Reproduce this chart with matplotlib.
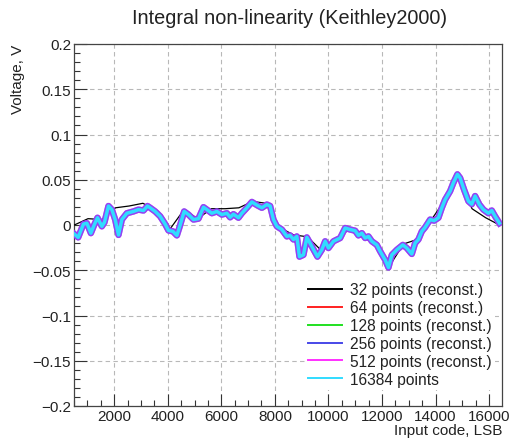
import matplotlib
matplotlib.use("Agg")
import matplotlib.pyplot as plt
from matplotlib.lines import Line2D
from matplotlib.ticker import MultipleLocator, FuncFormatter

# Integral non-linearity measured with a Keithley 2000 multimeter

# Coarse reconstruction from 32 calibration points (codes 512*k)
codes_32 = [512 * k for k in range(1, 33)]
inl_32 = [0.000, 0.007, 0.006, 0.019, 0.021, 0.024, 0.016, -0.004,
          0.017, 0.007, 0.018, 0.018, 0.019, 0.026, 0.024, -0.003,
          -0.011, -0.013, -0.028, -0.018, -0.005, -0.010, -0.021, -0.045,
          -0.021, -0.016, 0.005, 0.027, 0.054, 0.018, 0.008, 0.000]

# Full-resolution curve (main vertices of the 16384-point measurement)
codes_full = [512, 656, 854, 981, 1130, 1253, 1377, 1541, 1638, 1787,
              1914, 2037, 2161, 2287, 2474, 2720, 2907, 3094, 3243, 3344,
              3531, 3717, 3904, 4027, 4191, 4341, 4464, 4613, 4774, 4960,
              5147, 5334, 5461, 5647, 5834, 6021, 6207, 6330, 6453, 6640,
              6767, 6954, 7141, 7327, 7514, 7700, 7823, 7947, 8074, 8260,
              8447, 8570, 8693, 8820, 8918, 9067, 9194, 9380, 9589, 9753,
              9877, 10000, 10187, 10437, 10623, 10810, 10997, 11120, 11247, 11370,
              11493, 11620, 11807, 11930, 12117, 12240, 12367, 12553, 12777, 12926,
              13113, 13236, 13360, 13487, 13610, 13797, 13946, 14106, 14233, 14356,
              14543, 14666, 14815, 14916, 15065, 15226, 15353, 15476, 15636, 15786,
              15972, 16099, 16222, 16384]
inl_full = [-0.010, -0.0137, 0.001, 0.002, -0.009, 0.000, 0.008, -0.0015, 0.003, 0.021,
            0.017, 0.006, -0.011, 0.006, 0.013, 0.015, 0.017, 0.016, 0.021, 0.019,
            0.015, 0.0096, 0.001, -0.006, -0.007, -0.0115, 0.000, 0.015, 0.0115, 0.006,
            0.007, 0.0197, 0.017, 0.013, 0.015, 0.0115, 0.013, 0.0085, 0.012, 0.008,
            0.013, 0.019, 0.0255, 0.022, 0.019, 0.0226, 0.021, 0.006, -0.0015, -0.005,
            -0.0126, -0.0115, -0.016, -0.0126, -0.035, -0.033, -0.0137, -0.0237, -0.035, -0.0274,
            -0.018, -0.0255, -0.018, -0.0144, -0.0033, -0.005, -0.0063, -0.0115, -0.009, -0.0144,
            -0.0126, -0.018, -0.022, -0.029, -0.0385, -0.047, -0.033, -0.0274, -0.022, -0.0255,
            -0.032, -0.020, -0.016, -0.007, -0.0026, 0.006, 0.0048, 0.008, 0.019, 0.028,
            0.0374, 0.0467, 0.056, 0.052, 0.039, 0.0263, 0.023, 0.032, 0.0226, 0.017,
            0.013, 0.016, 0.0096, 0.002]

labels = ["32 points (reconst.)", "64 points (reconst.)", "128 points (reconst.)",
          "256 points (reconst.)", "512 points (reconst.)", "16384 points"]
colors = ["#000000", "#ff2020", "#20e020", "#4848e8", "#ff30ff", "#30dcff"]

plt.rcParams["font.family"] = ["Liberation Sans", "DejaVu Sans"]

fig = plt.figure(figsize=(5.10, 4.39), dpi=100)
ax = fig.add_axes([74 / 510, 1 - 407 / 439, 428 / 510, 362 / 439])

ax.plot(codes_32, inl_32, color=colors[0], lw=0.9, zorder=3)
ax.plot(codes_full, inl_full, color=colors[1], lw=1.2, zorder=3.1)
ax.plot(codes_full, inl_full, color=colors[2], lw=1.2, zorder=3.2)
ax.plot(codes_full, inl_full, color=colors[3], lw=4.6, zorder=3.3, solid_joinstyle="round")
ax.plot(codes_full, inl_full, color=colors[4], lw=4.6, alpha=0.45, zorder=3.4, solid_joinstyle="round")
ax.plot(codes_full, inl_full, color=colors[5], lw=2.5, zorder=3.5, solid_joinstyle="round")

ax.set_xlim(500, 16480)
ax.set_ylim(-0.2, 0.2)

ax.xaxis.set_major_locator(MultipleLocator(2000))
ax.xaxis.set_minor_locator(MultipleLocator(500))
ax.yaxis.set_major_locator(MultipleLocator(0.05))
ax.yaxis.set_minor_locator(MultipleLocator(0.01))
ax.yaxis.set_major_formatter(FuncFormatter(lambda v, p: ("%g" % round(v, 3)).replace("-", "\u2212")))

ax.tick_params(which="both", direction="in", top=False, right=False,
               labelsize=11, colors="#333333", labelcolor="#222222")
ax.tick_params(which="major", length=9, width=0.8, pad=2)
ax.tick_params(which="minor", length=4.5, width=0.8)

ax.grid(True, which="major", color="#b8b8b8", linestyle=(0, (4, 3)), linewidth=0.8)
ax.set_axisbelow(True)
for s in ax.spines.values():
    s.set_color("#444444")
    s.set_linewidth(0.9)

fig.text(290 / 510, 1 - 18 / 439, "Integral non-linearity (Keithley2000)",
         ha="center", va="center", fontsize=14.3, color="#222222")
fig.text(18 / 510, 1 - 45 / 439, "Voltage, V", rotation=90, ha="center", va="top",
         fontsize=11, color="#222222")
fig.text(502 / 510, 1 - 431 / 439, "Input code, LSB", ha="right", va="center",
         fontsize=11, color="#222222")

handles = [Line2D([0], [0], color=c, lw=1.4) for c in colors]
leg = ax.legend(handles, labels, loc="upper left",
                bbox_to_anchor=(305 / 510, 1 - 280 / 439), bbox_transform=fig.transFigure,
                frameon=True, facecolor="white", edgecolor="none", framealpha=1,
                fontsize=11.2, handlelength=2.2, handletextpad=0.5,
                labelspacing=0.19, borderpad=0.2, borderaxespad=0)
leg.set_zorder(5)
for t in leg.get_texts():
    t.set_color("#222222")

fig.savefig("out.png", dpi=100)
